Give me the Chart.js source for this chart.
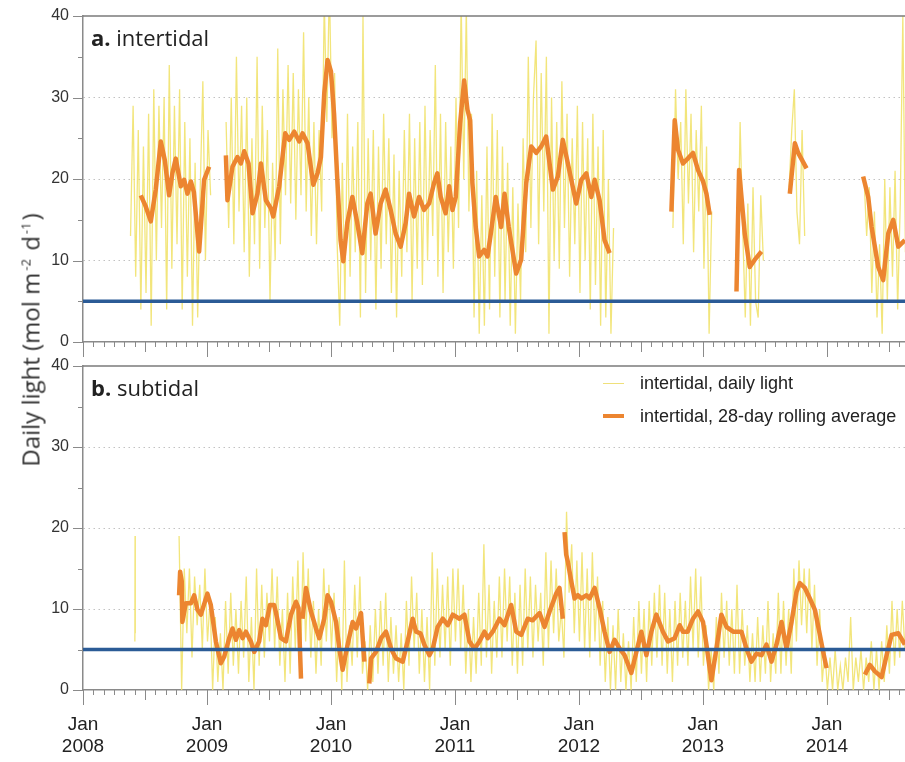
<!DOCTYPE html>
<html>
<head>
<meta charset="utf-8">
<script src="https://cdn.jsdelivr.net/npm/chart.js@4.4.1/dist/chart.umd.min.js"></script>
<style>
  html, body { margin: 0; padding: 0; background: #fff; }
  #wrap { position: relative; width: 905px; height: 762px; overflow: hidden; }
  canvas { position: absolute; left: 0; }
  #chartA { top: 0; }
  #chartB { top: 350px; }
  .panel-title { position: absolute; left: 91px; font-family: "Open Sans", sans-serif; font-size: 22px; color: #222; line-height: 1; }
  .panel-title b { font-weight: 700; }
  .ylabel { position: absolute; left: 30px; top: 340px; transform: translate(-50%, -50%) rotate(-90deg);
            white-space: nowrap; font-family: "Open Sans", sans-serif; font-size: 24px; color: #333; }
  .ylabel sup { font-size: 13px; margin: 0 2px; }
  .legend { position: absolute; left: 603px; top: 372px; font-family: "Liberation Sans", Arial, sans-serif; font-size: 18px; color: #222; }
  .legend div { position: relative; height: 33px; line-height: 22px; padding-left: 37px; white-space: nowrap; }
  .legend span { position: absolute; left: 0; width: 21px; }
</style>
</head>
<body>
<div id="wrap">
  <canvas id="chartA" width="905" height="362"></canvas>
  <canvas id="chartB" width="905" height="412"></canvas>
  <div class="panel-title" style="top:26px"><b>a.</b> intertidal</div>
  <div class="panel-title" style="top:376px"><b>b.</b> subtidal</div>
  <div class="ylabel">Daily light (mol m<sup>-2</sup> d<sup>-1</sup>)</div>
  <div class="legend">
    <div><span style="top:11px;height:1px;background:#efe07a"></span>intertidal, daily light</div>
    <div><span style="top:9px;height:4px;background:#ec8530"></span>intertidal, 28-day rolling average</div>
  </div>
</div>
<script>
// x values are months counted from Jan 2008
const xMaxMonths = 79.56;
const yearTickMonths = [0, 12, 24, 36, 48, 60, 72];
const yearLabels = ['2008', '2009', '2010', '2011', '2012', '2013', '2014'];
const lightThreshold = 5;
const dailyStep = 0.25;

// a. intertidal, daily light: runs of readings, each starting at a month
const dailyA_starts = [4.6, 13.85, 57.1, 63.35, 68.35, 75.6];
const dailyA_run1 = [13, 29, 8, 26, 4, 24, 6, 28, 2, 31, 10, 29, 14, 30, 4, 34, 9, 29, 12, 31, 4, 27, 8, 25, 2, 22, 3, 19, 32, 10, 26, 18];
const dailyA_run2 = [27, 14, 30, 12, 35, 16, 29, 11, 30, 8, 25, 12, 35, 9, 29, 14, 26, 5, 22, 10, 36, 12, 31, 18,
  34, 17, 33, 15, 31, 18, 38, 16, 30, 13, 27, 12, 26, 16, 42, 27, 44, 25, 33, 12, 2, 22, 5, 28,
  8, 24, 11, 27, 3, 40, 6, 25, 10, 26, 4, 24, 9, 28, 12, 25, 6, 23, 3, 21, 8, 26, 11, 28,
  5, 25, 9, 27, 7, 29, 10, 26, 13, 34, 8, 28, 6, 27, 11, 24, 9, 30, 14, 42, 20, 41, 16, 28,
  3, 21, 1, 18, 2, 24, 4, 28, 8, 26, 3, 24, 5, 22, 2, 19, 1, 17, 5, 25, 11, 35, 14, 30,
  37, 12, 33, 16, 35, 1, 30, 10, 27, 9, 32, 14, 28, 8, 25, 12, 29, 6, 27, 10, 25, 4, 28, 7,
  24, 2, 26, 3, 20, 1, 14];
const dailyA_run3 = [14, 31, 20, 27, 12, 31, 17, 28, 11, 26, 16, 29, 9, 24, 1, 16];
const dailyA_run4 = [8, 27, 14, 3, 17, 2, 19, 5, 3, 18, 10];
const dailyA_run5 = [19, 26, 31, 16, 12, 26, 13];
const dailyA_run6 = [20, 13, 19, 6, 16, 3, 12, 1, 20, 5, 19, 8, 21, 4, 17, 40, 11];

// a. intertidal, 28-day rolling average (null = break in the record)
const avgA_months = [5.59, 6.08, 6.56, 7.04, 7.53, 7.92, 8.33, 8.65, 8.98, 9.47, 9.79, 10.11, 10.44, 10.73, 11.24, 11.72, 12.21, 12.8,
  13.83, 13.98, 14.47, 14.95, 15.28, 15.6, 16.02, 16.41, 16.89, 17.22, 17.7, 18.19, 18.41, 18.99, 19.57, 19.96, 20.45, 20.93,
  21.25, 21.73, 22.29, 22.7, 23.03, 23.35, 23.67, 24.0, 24.3, 24.6, 24.93, 25.19, 25.58, 26.07, 26.55, 27.03, 27.52, 27.84,
  28.32, 28.81, 29.29, 29.78, 30.26, 30.75, 31.23, 31.56, 32.04, 32.53, 33.01, 33.5, 33.98, 34.3, 34.62, 35.1, 35.44, 35.76,
  36.08, 36.5, 36.89, 37.21, 37.47, 37.69, 38.01, 38.34, 38.83, 39.15, 39.47, 39.95, 40.47, 40.8, 41.21, 41.93, 42.41, 42.9,
  43.38, 43.87, 44.35, 44.83, 45.48, 45.96, 46.44, 46.93, 47.74, 48.23, 48.71, 49.2, 49.52, 50.0, 50.48, 50.97, 52,
  56.95, 57.27, 57.59, 58.07, 58.53, 59.04, 59.53, 60.01, 60.34, 60.66, 62,
  63.25, 63.5, 64.05, 64.53, 65.02, 65.67, 67,
  68.41, 68.9, 69.22, 70.03, 72,
  75.51, 76.0, 76.33, 76.97, 77.45, 77.94, 78.42, 78.91, 79.55];
const avgA_values = [18.0, 16.6, 14.8, 18.7, 24.6, 22.3, 18.0, 20.7, 22.5, 19.1, 19.9, 18.2, 19.7, 18.4, 11.1, 19.9, 21.5, null,
  22.9, 17.4, 21.5, 22.7, 21.9, 23.4, 21.9, 15.8, 18.2, 21.9, 17.4, 16.4, 15.4, 19.1, 25.6, 24.8, 25.8, 24.6,
  25.6, 24.4, 19.3, 20.7, 22.7, 30.5, 34.6, 33.2, 28.0, 20.3, 12.5, 9.9, 14.6, 17.8, 14.6, 10.9, 17.0, 18.2,
  13.3, 17.0, 18.7, 16.2, 13.3, 11.7, 14.6, 18.2, 15.4, 17.8, 16.2, 17.0, 19.5, 20.7, 17.8, 15.8, 19.1, 16.2,
  17.8, 26.8, 32.1, 28.5, 27.2, 19.5, 14.1, 10.5, 11.3, 10.5, 13.3, 17.8, 14.1, 18.2, 14.1, 8.4, 10.1, 19.5,
  24.0, 23.2, 24.0, 25.2, 18.7, 20.3, 24.8, 21.9, 17.0, 19.9, 20.7, 17.8, 19.9, 17.4, 12.5, 10.9, null,
  16.0, 27.2, 23.6, 21.9, 22.5, 23.2, 21.1, 19.7, 18.2, 15.6, null,
  6.2, 21.1, 13.3, 9.2, 10.1, 11.1, null,
  18.2, 24.4, 23.2, 21.3, null,
  20.3, 17.8, 14.1, 9.2, 7.6, 13.3, 15.0, 11.7, 12.5];

// b. subtidal, daily light
const dailyB_earlyMonths = [5.02, 5.04, 5.06];
const dailyB_earlyValues = [6, 19, 7];
const dailyB_start = 9.3;
const dailyB_values = [19, 0, 15, 7, 15, 4, 14, 8, 13, 5, 15, 6, 11, 0, 9, 1, 7, 0, 11, 2, 12, 3, 10, 2,
  11, 4, 14, 1, 9, 0, 15, 3, 13, 4, 12, 6, 15, 5, 14, 3, 10, 1, 12, 2, 14, 5, 16, 2,
  17, 6, 15, 4, 11, 2, 10, 3, 15, 6, 13, 5, 12, 1, 9, 0, 16, 1, 8, 3, 13, 4, 14, 2,
  6, 0, 8, 1, 10, 2, 11, 3, 12, 1, 9, 2, 8, 1, 7, 0, 11, 3, 14, 5, 12, 2, 10, 1,
  9, 0, 17, 3, 15, 4, 13, 5, 14, 3, 15, 6, 15, 5, 13, 2, 10, 1, 9, 2, 12, 3, 18, 4,
  13, 2, 11, 4, 14, 4, 15, 6, 14, 3, 12, 2, 13, 3, 15, 5, 14, 4, 13, 6, 12, 3, 17, 5,
  16, 7, 15, 6, 10, 4, 22, 12, 18, 7, 16, 6, 17, 5, 15, 4, 17, 6, 14, 3, 11, 1, 9, 0,
  8, 0, 10, 1, 7, 0, 6, 0, 9, 1, 11, 2, 10, 1, 11, 3, 12, 4, 13, 3, 12, 2, 10, 1,
  11, 3, 12, 4, 11, 3, 14, 5, 15, 4, 14, 3, 8, 0, 5, 0, 9, 2, 12, 4, 11, 3, 10, 2,
  13, 2, 10, 3, 8, 1, 7, 1, 9, 1, 8, 2, 11, 1, 7, 2, 12, 2, 11, 3, 10, 2, 15, 6,
  16, 8, 15, 7, 15, 5, 13, 3, 10, 1, 5, 0, 4, 0, 5, 0, 3, 0, 4, 1, 9, 0, 4, 1,
  5, 0, 4, 1, 6, 0, 5, 0, 6, 1, 8, 2, 11, 3, 10, 4, 11, 5];

// b. subtidal, 28-day rolling average
const avgB_months = [9.3, 9.4, 9.56, 9.62, 9.95, 10.44, 10.76, 11.08, 11.41, 12.04, 12.37, 12.86, 13.34, 13.66, 14.15, 14.47,
  14.8, 15.12, 15.44, 15.77, 16.25, 16.57, 17.05, 17.37, 17.7, 18.09, 18.5, 18.67, 19.16, 19.64, 20.13, 20.61, 20.86, 21.1, 21.18,
  21.25, 21.58, 22.06, 22.55, 22.87, 23.35, 23.67, 24.0, 24.49, 24.81, 25.13, 25.61, 26.1, 26.42, 26.91, 27.23, 27.5,
  27.71, 27.88, 28.36, 28.85, 29.33, 29.82, 30.3, 30.94, 31.42, 31.91, 32.24, 32.66, 33.04, 33.53, 33.85, 34.33, 34.82, 35.3,
  35.79, 36.43, 36.92, 37.4, 37.89, 38.37, 38.86, 39.18, 39.66, 40.31, 40.79, 41.44, 41.93, 42.41, 43.05, 43.51, 44.19, 44.67,
  45.16, 45.8, 46.12, 46.44, 46.52,
  46.61, 46.77, 46.93, 47.26, 47.58, 47.9, 48.26, 48.71, 49.03, 49.52, 50.0, 50.48, 50.97, 51.45, 51.94, 52.42, 53.07, 53.56,
  54.04, 54.53, 55.01, 55.49, 56.13, 56.62, 57.27, 57.75, 58.07, 58.53, 59.04, 59.53, 60.01, 60.34, 60.82, 61.31, 61.79, 62.28,
  62.92, 63.73, 64.22, 64.7, 65.18, 65.67, 66.15, 66.64, 67.12, 67.61, 68.09, 68.58, 69.06, 69.38, 69.87, 70.35, 70.84, 71.32,
  71.64, 71.97, 73,
  75.68, 76.16, 76.65, 77.3, 77.78, 78.26, 78.91, 79.55];
const avgB_values = [11.7, 14.6, 13.4, 8.4, 10.7, 10.7, 11.7, 9.9, 9.3, 11.9, 10.5, 6.0, 3.3, 4.1, 6.4, 7.6,
  6.2, 7.4, 6.4, 7.2, 6.0, 4.7, 6.0, 8.8, 8.0, 10.5, 10.5, 9.6, 6.4, 6.0, 9.3, 10.9, 10.1, 1.4, null,
  8.8, 12.6, 9.7, 7.6, 6.4, 8.8, 11.7, 10.9, 8.4, 5.1, 2.5, 5.6, 8.4, 7.6, 9.5, 3.5, null,
  0.8, 3.9, 4.7, 6.4, 7.2, 5.1, 3.9, 3.5, 6.0, 8.8, 7.2, 7.0, 5.6, 4.3, 5.1, 7.8, 8.8, 8.0,
  9.3, 8.8, 9.3, 6.0, 5.1, 6.0, 7.2, 6.4, 7.2, 8.8, 8.0, 10.5, 7.2, 6.8, 8.8, 8.6, 9.5, 7.8,
  9.7, 11.9, 12.6, 8.8, null,
  19.5, 16.7, 15.8, 13.4, 11.3, 11.7, 11.3, 11.7, 11.3, 12.6, 10.1, 7.2, 4.7, 6.2, 5.1, 4.3, 2.1, 4.7,
  7.2, 4.3, 7.2, 9.3, 7.2, 6.0, 6.4, 8.0, 7.2, 7.2, 8.8, 9.7, 8.4, 5.6, 1.2, 5.1, 9.3, 7.8,
  7.2, 7.2, 5.1, 3.5, 4.5, 4.3, 5.6, 3.5, 5.6, 8.4, 5.1, 8.4, 12.1, 13.2, 12.6, 11.3, 9.9, 6.8,
  4.7, 2.7, null,
  1.9, 3.1, 2.3, 1.6, 4.3, 6.8, 7.0, 5.6];

// ---- build point lists from the arrays ----
function runsToPoints(starts, runs) {
  const pts = [];
  runs.forEach((run, r) => {
    if (r > 0) pts.push({ x: starts[r] - dailyStep / 2, y: null });
    run.forEach((v, i) => pts.push({ x: starts[r] + i * dailyStep, y: v }));
  });
  return pts;
}
function pairPoints(xs, ys) {
  return xs.map((x, i) => ({ x: x, y: ys[i] }));
}

const dailyA = runsToPoints(dailyA_starts, [dailyA_run1, dailyA_run2, dailyA_run3, dailyA_run4, dailyA_run5, dailyA_run6]);
const dailyB = pairPoints(dailyB_earlyMonths, dailyB_earlyValues)
  .concat([{ x: 7, y: null }])
  .concat(dailyB_values.map((v, i) => ({ x: dailyB_start + i * dailyStep, y: v })));

const GRAY = '#8a8a8a';

// frame top line plus month / half-unit tick marks
const tickMarks = {
  id: 'tickMarks',
  afterDatasetsDraw(chart) {
    const { ctx, chartArea: a, scales: { x, y } } = chart;
    ctx.save();
    ctx.strokeStyle = '#7a7a7a';
    ctx.lineWidth = 1.5;
    ctx.beginPath();
    ctx.moveTo(a.left, a.top);
    ctx.lineTo(a.right, a.top);
    ctx.stroke();
    ctx.strokeStyle = GRAY;
    ctx.lineWidth = 1;
    ctx.beginPath();
    for (let m = 0; m <= x.max; m++) {
      const px = Math.round(x.getPixelForValue(m)) + 0.5;
      const len = m % 12 === 0 ? 15 : (m % 6 === 0 ? 10 : 5);
      ctx.moveTo(px, a.bottom);
      ctx.lineTo(px, a.bottom + len);
    }
    for (let v = 0; v <= 40; v += 5) {
      const py = Math.round(y.getPixelForValue(v)) + 0.5;
      const len = v % 10 === 0 ? 10 : 5;
      ctx.moveTo(a.left - len, py);
      ctx.lineTo(a.left, py);
    }
    ctx.stroke();
    ctx.restore();
  }
};

function makeChart(id, daily, avg, showLabels, xHeight) {
  return new Chart(document.getElementById(id), {
    type: 'line',
    data: {
      datasets: [
        {
          data: [{ x: 0, y: lightThreshold }, { x: xMaxMonths, y: lightThreshold }],
          borderColor: '#2b5b96', borderWidth: 3.5, pointRadius: 0, order: 0
        },
        {
          data: avg, borderColor: '#ec8530', borderWidth: 4.5, pointRadius: 0,
          spanGaps: false, borderJoinStyle: 'round', borderCapStyle: 'butt', order: 1
        },
        {
          data: daily, borderColor: 'rgba(240,224,100,0.85)', borderWidth: 1.3, pointRadius: 0,
          spanGaps: false, order: 2
        }
      ]
    },
    options: {
      responsive: false,
      animation: false,
      events: [],
      layout: { padding: { top: 16, left: 0, right: 0, bottom: 0 } },
      plugins: { legend: { display: false }, tooltip: { enabled: false } },
      scales: {
        x: {
          type: 'linear', min: 0, max: xMaxMonths,
          grid: { display: true, drawOnChartArea: false, drawTicks: true, tickLength: 23, tickColor: 'rgba(0,0,0,0)' },
          border: { display: true, color: GRAY, width: 1.5 },
          afterBuildTicks: s => { s.ticks = yearTickMonths.map(v => ({ value: v })); },
          afterFit: s => { s.height = xHeight; },
          ticks: {
            display: showLabels, autoSkip: false, maxRotation: 0, padding: 0,
            color: '#222', font: { family: 'Liberation Sans', size: 19, lineHeight: 1.2 },
            callback: v => ['Jan', yearLabels[yearTickMonths.indexOf(v)]]
          }
        },
        y: {
          min: 0, max: 40,
          afterFit: s => { s.width = 83; },
          grid: {
            drawTicks: true, tickLength: 14, tickColor: 'rgba(0,0,0,0)',
            color: c => (c.tick && [10, 20, 30].includes(c.tick.value)) ? '#c2c2c2' : 'rgba(0,0,0,0)',
            lineWidth: 1
          },
          border: { display: true, color: GRAY, width: 1.5, dash: [1.5, 3.5] },
          ticks: { stepSize: 10, padding: 0, color: '#333', font: { family: 'Liberation Sans', size: 16 } }
        }
      }
    },
    plugins: [tickMarks]
  });
}

makeChart('chartA', dailyA, pairPoints(avgA_months, avgA_values), false, 20);
makeChart('chartB', dailyB, pairPoints(avgB_months, avgB_values), true, 72);
</script>
</body>
</html>
